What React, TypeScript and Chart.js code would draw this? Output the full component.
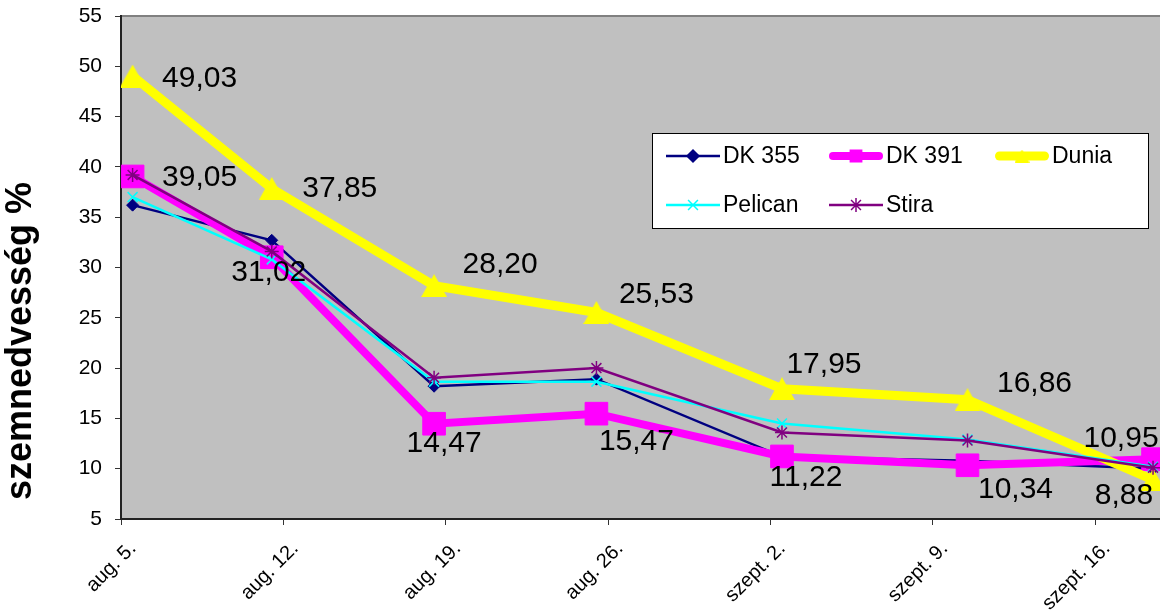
import React, { useEffect, useRef } from "react";
import { Chart, registerables } from "chart.js";
import { drawPoint } from "chart.js/helpers";

Chart.register(...registerables);

// ---- data ----
const seriesNames = ["DK 355", "DK 391", "Dunia", "Pelican", "Stira"];
// sampling dates, as days after aug. 5.
const sampleDays = [0, 6, 13, 20, 28, 36, 44];
const dk355 = [36.2, 32.7, 18.2, 18.9, 11.2, 10.8, 10.0];
const dk391 = [39.05, 31.02, 14.47, 15.47, 11.22, 10.34, 10.95];
const dunia = [49.03, 37.85, 28.2, 25.53, 17.95, 16.86, 8.88];
const pelican = [37.0, 30.8, 18.65, 18.65, 14.5, 12.9, 10.2];
const stira = [39.2, 31.6, 19.05, 20.0, 13.6, 12.8, 10.1];
const tickDays = [0, 7, 14, 21, 28, 35, 42];
const tickLabels = ["aug. 5.", "aug. 12.", "aug. 19.", "aug. 26.", "szept. 2.", "szept. 9.", "szept. 16."];
const yTitle = "szemnedvesség %";

// ---- styles ----
const FONT = "'Liberation Sans', Arial, sans-serif";
const colors = ["#000080", "#FF00FF", "#FFFF00", "#00FFFF", "#800080"];
const widths = [2.5, 8, 9, 2.5, 2.5];
const pointRadii = [6, 16, 13, 7, 7];
const legendRadii = [6, 8, 7, 7, 7];
const labelOffsets: Record<number, number[][]> = {
  2: [[67, 3], [68, 0.5], [66, -20.5], [60, -17.5], [42, -23.5], [67, -15.5], [-29, 16]],
  1: [[67, 1.5], [-3, 15], [10, 20], [40, 28], [24, 21], [48, 24], [-32, -20]],
};

const seriesValues = [dk355, dk391, dunia, pelican, stira];

function makeTriangle(w: number, h: number, color: string) {
  const c = document.createElement("canvas");
  c.width = w;
  c.height = h;
  const g = c.getContext("2d")!;
  g.fillStyle = color;
  g.beginPath();
  g.moveTo(w / 2, 0);
  g.lineTo(w, h);
  g.lineTo(0, h);
  g.closePath();
  g.fill();
  return c;
}

const plotBgPlugin = {
  id: "plotBg",
  beforeDraw(chart: any) {
    const { ctx, chartArea: a } = chart;
    ctx.save();
    ctx.fillStyle = "#C0C0C0";
    ctx.fillRect(a.left, a.top, a.right - a.left, a.bottom - a.top);
    ctx.strokeStyle = "#808080";
    ctx.lineWidth = 2;
    ctx.beginPath();
    ctx.moveTo(a.left, a.top);
    ctx.lineTo(a.right, a.top);
    ctx.stroke();
    ctx.restore();
  },
};

const labelsPlugin = {
  id: "valueLabels",
  afterDatasetsDraw(chart: any) {
    const { ctx } = chart;
    ctx.save();
    ctx.font = `30px ${FONT}`;
    ctx.fillStyle = "#000";
    ctx.textAlign = "center";
    ctx.textBaseline = "middle";
    Object.keys(labelOffsets).forEach((k) => {
      const i = Number(k);
      const meta = chart.getDatasetMeta(i);
      const vals = seriesValues[i];
      meta.data.forEach((pt: any, j: number) => {
        const [dx, dy] = labelOffsets[i][j];
        const txt = vals[j].toFixed(2).replace(".", ",");
        ctx.fillText(txt, pt.x + dx, pt.y + dy);
      });
    });
    ctx.restore();
  },
};

const titlePlugin = {
  id: "yTitle",
  afterDraw(chart: any) {
    const { ctx } = chart;
    ctx.save();
    ctx.translate(21, 341);
    ctx.rotate(-Math.PI / 2);
    ctx.font = `bold 36px ${FONT}`;
    ctx.fillStyle = "#000";
    ctx.textAlign = "center";
    ctx.textBaseline = "middle";
    ctx.fillText(yTitle, 0, 0);
    ctx.restore();
  },
};

function makeLegendPlugin(legendStyles: any[]) {
  return {
    id: "boxLegend",
    afterDraw(chart: any) {
      const { ctx } = chart;
      const box = { x: 652, y: 133, w: 496, h: 95 };
      const cols = [14, 177, 343];
      const rows = [23, 72];
      const sample = 54;
      ctx.save();
      ctx.fillStyle = "#fff";
      ctx.fillRect(box.x, box.y, box.w, box.h);
      ctx.strokeStyle = "#000";
      ctx.lineWidth = 1;
      ctx.strokeRect(box.x + 0.5, box.y + 0.5, box.w, box.h);
      seriesNames.forEach((name, i) => {
        const lx = box.x + cols[i % 3];
        const ly = box.y + rows[Math.floor(i / 3)];
        ctx.strokeStyle = colors[i];
        ctx.fillStyle = colors[i];
        ctx.lineWidth = widths[i];
        ctx.lineCap = widths[i] > 4 ? "round" : "butt";
        const inset = widths[i] > 4 ? widths[i] / 2 : 0;
        ctx.beginPath();
        ctx.moveTo(lx + inset, ly);
        ctx.lineTo(lx + sample - inset, ly);
        ctx.stroke();
        ctx.lineCap = "butt";
        ctx.lineWidth = 1.5;
        drawPoint(ctx, { pointStyle: legendStyles[i], rotation: 0, radius: legendRadii[i], borderWidth: 1.5 } as any, lx + sample / 2, ly);
        ctx.fillStyle = "#000";
        ctx.font = `23px ${FONT}`;
        ctx.textAlign = "left";
        ctx.textBaseline = "middle";
        ctx.fillText(name, lx + sample + 3, ly + 1);
      });
      ctx.restore();
    },
  };
}

export default function App() {
  const ref = useRef<HTMLCanvasElement>(null);
  useEffect(() => {
    if (!ref.current) return;
    const pointStyles: any[] = ["rectRot", "rect", makeTriangle(26, 23, colors[2]), "crossRot", "star"];
    const legendStyles: any[] = ["rectRot", "rect", makeTriangle(15, 13, colors[2]), "crossRot", "star"];
    const datasets = seriesNames.map((name, i) => ({
      label: name,
      // points sit at the middle of their day on the date axis
      data: sampleDays.map((d, j) => ({ x: d + 0.5, y: seriesValues[i][j] })),
      borderColor: colors[i],
      backgroundColor: colors[i],
      borderWidth: widths[i],
      pointStyle: pointStyles[i],
      pointRadius: pointRadii[i],
      pointHoverRadius: pointRadii[i],
      pointBorderWidth: i === 3 || i === 4 ? 1.5 : 1,
      pointBackgroundColor: colors[i],
      pointBorderColor: colors[i],
      tension: 0,
      order: seriesNames.length - i,
    }));
    const chart = new Chart(ref.current, {
      type: "line",
      data: { datasets },
      options: {
        animation: false,
        responsive: false,
        devicePixelRatio: 1,
        layout: { autoPadding: false, padding: { top: 16, left: 0, right: 0, bottom: 0 } },
        plugins: { legend: { display: false }, tooltip: { enabled: false } },
        scales: {
          x: {
            type: "linear",
            min: 0,
            max: 44.8,
            afterBuildTicks: (axis: any) => {
              axis.ticks = tickDays.map((v) => ({ value: v }));
            },
            afterFit: (axis: any) => {
              axis.height = 94;
              axis.paddingLeft = 0;
              axis.paddingRight = 0;
            },
            ticks: {
              autoSkip: false,
              minRotation: 45,
              maxRotation: 45,
              padding: 12,
              labelOffset: 12,
              color: "#000",
              font: { family: FONT, size: 20 },
              callback: (_v: any, idx: number) => tickLabels[idx],
            },
            grid: { drawOnChartArea: false, drawTicks: true, tickLength: 6, color: "#333" },
            border: { color: "#222", width: 2 },
          },
          y: {
            min: 5,
            max: 55,
            afterFit: (axis: any) => {
              axis.width = 121;
              axis.paddingTop = 0;
              axis.paddingBottom = 0;
            },
            ticks: {
              stepSize: 5,
              padding: 13,
              color: "#000",
              font: { family: FONT, size: 21 },
            },
            grid: { drawOnChartArea: false, drawTicks: true, tickLength: 6, color: "#333" },
            border: { color: "#222", width: 2 },
          },
        },
      },
      plugins: [plotBgPlugin, labelsPlugin, titlePlugin, makeLegendPlugin(legendStyles)],
    });
    return () => chart.destroy();
  }, []);
  return (
    <div style={{ position: "fixed", left: 0, top: 0, width: 1160, height: 613, background: "#fff" }}>
      <canvas ref={ref} width={1160} height={613} />
    </div>
  );
}
